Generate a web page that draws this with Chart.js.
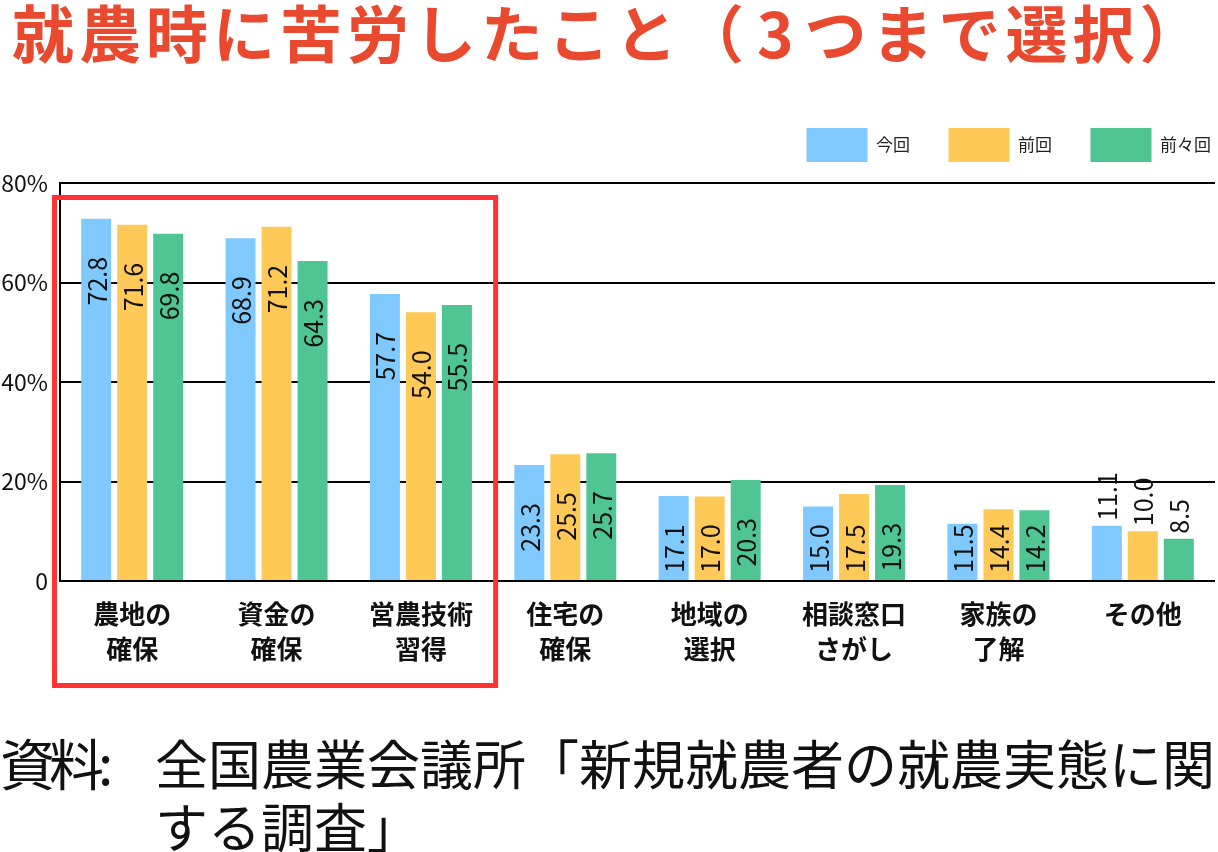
<!DOCTYPE html>
<html lang="ja">
<head>
<meta charset="utf-8">
<title>就農時に苦労したこと</title>
<script src="https://cdn.jsdelivr.net/npm/chart.js@4.4.1/dist/chart.umd.min.js"></script>
<style>
    html, body { margin: 0; padding: 0; background: #fff; overflow: hidden; }
    #wrap { position: relative; width: 1218px; height: 852px; font-family: "Noto Sans CJK JP", sans-serif; }
    #chart { position: absolute; left: 0; top: 0; }
    #title {
        position: absolute; left: 12px; top: 0; white-space: nowrap;
        font-size: 62px; line-height: 62px; font-weight: bold; letter-spacing: 5px;
        color: #e8492f;
    }
    #title .num { margin: 0 6px 0 8px; }
    .note { position: absolute; white-space: nowrap; font-size: 53px; line-height: 55px; color: #111; }
</style>
</head>
<body>
<div id="wrap">
    <canvas id="chart" width="1218" height="700"></canvas>
    <div id="title"></div>
    <div class="note" id="noteHead" style="left:0; top:734px; font-size:55px; letter-spacing:-6px;"></div>
    <div class="note" id="noteLine1" style="left:155px; top:735px;"></div>
    <div class="note" id="noteLine2" style="left:155px; top:798px;"></div>
</div>
<script>
// --- Data ---
const titleParts = ['就農時に苦労したこと（', '3', 'つまで選択）'];
const sourceHead = '資料:';
const sourceLines = ['全国農業会議所「新規就農者の就農実態に関', 'する調査」'];

const categories = [
    ['農地の', '確保'], ['資金の', '確保'], ['営農技術', '習得'], ['住宅の', '確保'],
    ['地域の', '選択'], ['相談窓口', 'さがし'], ['家族の', '了解'], ['その他']
];
const seriesNames = ['今回', '前回', '前々回'];
const konkai   = [72.8, 68.9, 57.7, 23.3, 17.1, 15.0, 11.5, 11.1];
const zenkai   = [71.6, 71.2, 54.0, 25.5, 17.0, 17.5, 14.4, 10.0];
const zenzen   = [69.8, 64.3, 55.5, 25.7, 20.3, 19.3, 14.2, 8.5];
const yTicks   = [0, 20, 40, 60, 80];

const colors = ['#80c9ff', '#ffc957', '#4fc594'];
const FONT = '"Noto Sans CJK JP", "Noto Sans", sans-serif';

// title: the "3" gets a bit of air like the original
const titleEl = document.getElementById('title');
titleEl.append(titleParts[0]);
const num = document.createElement('span');
num.className = 'num';
num.textContent = titleParts[1];
titleEl.append(num, titleParts[2]);

document.getElementById('noteHead').textContent = sourceHead;
document.getElementById('noteLine1').textContent = sourceLines[0];
document.getElementById('noteLine2').textContent = sourceLines[1];

// --- Layout tweaks ---
const TOP_PAD = 89.5;      // room for the html title
const LEGEND_H = 93.5;     // legend block ends where the plot starts
const LEGEND_PAD = 38.5;
const RIGHT_PAD = 3;

// shrink the legend block, then push the row to the right edge
const legendFit = {
    id: 'legendFit',
    beforeLayout(chart) {
        const lg = chart.legend;
        if (!lg || lg._patched) return;
        const fit = lg.fit;
        lg.fit = function () {
            fit.call(this);
            this.height = LEGEND_H;
        };
        lg._patched = true;
    },
    afterLayout(chart) {
        if (chart.legend) chart.legend.right += LEGEND_PAD - 4;
    }
};

// rotated values inside bars + the red highlight frame
const barLabels = {
    id: 'barLabels',
    afterDatasetsDraw(chart) {
        const { ctx } = chart;
        const base = chart.scales.y.getPixelForValue(0);
        ctx.save();
        ctx.font = '25px ' + FONT;
        ctx.fillStyle = '#111';
        ctx.textBaseline = 'middle';
        chart.data.datasets.forEach((ds, i) => {
            chart.getDatasetMeta(i).data.forEach((bar, j) => {
                const txt = ds.data[j].toFixed(1);
                const w = ctx.measureText(txt).width;
                ctx.save();
                if (base - bar.y < w + 8) {
                    // too short: put it above the bar
                    ctx.translate(bar.x, bar.y - 5);
                    ctx.rotate(-Math.PI / 2);
                    ctx.textAlign = 'left';
                } else {
                    ctx.translate(bar.x, Math.min(bar.y + 38, base - 8 - w));
                    ctx.rotate(-Math.PI / 2);
                    ctx.textAlign = 'right';
                }
                ctx.fillText(txt, 0, 1);
                ctx.restore();
            });
        });
        ctx.restore();
    },
    afterDraw(chart) {
        const { ctx } = chart;
        const x = chart.scales.x, y = chart.scales.y;
        const half = (x.getPixelForValue(1) - x.getPixelForValue(0)) / 2;
        const left = x.getPixelForValue(0) - half - 5.5;
        const right = x.getPixelForValue(2) + half + 2.5;
        const top = y.getPixelForValue(80) + 14.5;
        const bottom = y.getPixelForValue(0) + 104.5;
        ctx.save();
        ctx.strokeStyle = '#ff3333';
        ctx.lineWidth = 5;
        ctx.strokeRect(left, top, right - left, bottom - top);
        ctx.restore();
    }
};

Chart.defaults.font.family = FONT;
Chart.defaults.color = '#111';

new Chart(document.getElementById('chart').getContext('2d'), {
    type: 'bar',
    data: {
        labels: categories,
        datasets: [konkai, zenkai, zenzen].map((d, i) => ({
            label: seriesNames[i],
            data: d,
            backgroundColor: colors[i],
            borderWidth: 0,
            barPercentage: 0.833,
            categoryPercentage: 0.748
        }))
    },
    options: {
        responsive: false,
        animation: false,
        layout: { padding: { top: TOP_PAD, right: RIGHT_PAD } },
        plugins: {
            title: { display: false },
            tooltip: { enabled: false },
            legend: {
                position: 'top',
                align: 'end',
                labels: {
                    boxWidth: 61,
                    boxHeight: 34,
                    padding: LEGEND_PAD,
                    color: '#222',
                    font: { size: 17 }
                }
            }
        },
        scales: {
            x: {
                grid: { display: false },
                border: { display: false },
                ticks: {
                    padding: 8,
                    maxRotation: 0,
                    autoSkip: false,
                    color: '#111',
                    font: { size: 26, weight: 'bold', lineHeight: 1.346 }
                },
                afterFit(scale) { scale.height = 700 - 581; }
            },
            y: {
                min: 0,
                max: 80,
                afterBuildTicks(scale) { scale.ticks = yTicks.map(v => ({ value: v })); },
                grid: { color: '#000', lineWidth: 2, drawTicks: false },
                border: { display: true, color: '#000', width: 2 },
                ticks: {
                    padding: 12,
                    color: '#111',
                    font: { size: 23 },
                    callback: v => v === 0 ? '0' : v + '%'
                },
                afterFit(scale) { scale.width = 60; }
            }
        }
    },
    plugins: [legendFit, barLabels]
});
</script>
</body>
</html>
